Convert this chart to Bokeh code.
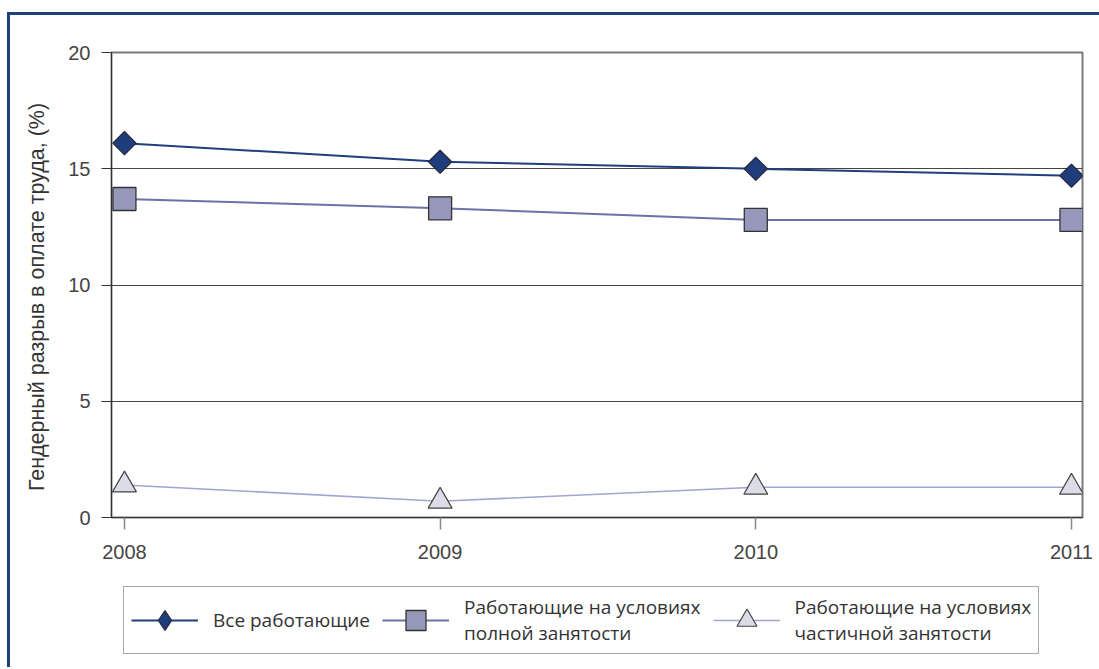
import numpy as np
from bokeh.plotting import figure
from bokeh.layouts import column
from bokeh.models import Range1d, FixedTicker, Legend, LegendItem, ColumnDataSource
from bokeh.embed import file_html
from bokeh.resources import INLINE

# ---- data ----
years = [2008, 2009, 2010, 2011]
year_labels = ["2008", "2009", "2010", "2011"]
all_workers = [16.1, 15.3, 15.0, 14.7]
full_time = [13.7, 13.3, 12.8, 12.8]
part_time = [1.4, 0.7, 1.3, 1.3]
y_ticks = [0, 5, 10, 15, 20]
series_names = [
    "Все работающие",
    "Работающие на условиях\nполной занятости",
    "Работающие на условиях\nчастичной занятости",
]
y_label = "Гендерный разрыв в оплате труда, (%)"

TICK_FONT = "Liberation Sans"
LEG_FONT = "Open Sans"

C1_LINE, C1_FILL = "#1F3F7F", "#1F3D7C"
C2_LINE, C2_FILL = "#6A72A8", "#9598BA"
C3_LINE, C3_FILL = "#A2A5CF", "#DCDCE8"

src = ColumnDataSource(dict(x=years, a=all_workers, f=full_time, t=part_time))

# ---------------- main chart ----------------
p = figure(
    width=1089, height=562,
    output_backend="svg", toolbar_location=None,
    x_range=Range1d(2007.959, 2011.035), y_range=Range1d(0, 20),
    min_border_left=101, min_border_right=17, min_border_top=37, min_border_bottom=60,
)
p.background_fill_color = "white"
p.border_fill_color = "white"
p.outline_line_color = "#7A7A7A"
p.outline_line_width = 2

p.xgrid.visible = False
p.ygrid.ticker = FixedTicker(ticks=y_ticks)
p.ygrid.grid_line_color = "#444444"
p.ygrid.grid_line_width = 1

p.yaxis.ticker = FixedTicker(ticks=y_ticks)
p.yaxis.axis_line_color = "#333333"
p.yaxis.major_tick_line_color = "#333333"
p.yaxis.major_tick_out = 10
p.yaxis.major_tick_in = 0
p.yaxis.minor_tick_line_color = None
p.yaxis.major_label_text_font = TICK_FONT
p.yaxis.major_label_text_font_size = "20px"
p.yaxis.major_label_text_color = "#444444"
p.yaxis.major_label_standoff = 11
# trailing no-break spaces nudge the centred label slightly downwards, as in the original
p.yaxis.axis_label = y_label + "\u00a0" * 4
p.yaxis.axis_label_text_font = TICK_FONT
p.yaxis.axis_label_text_font_size = "21.5px"
p.yaxis.axis_label_text_font_style = "normal"
p.yaxis.axis_label_text_color = "#333333"
p.yaxis.axis_label_standoff = 16

p.xaxis.ticker = FixedTicker(ticks=years)
p.xaxis.major_label_overrides = {y: lab for y, lab in zip(years, year_labels)}
p.xaxis.axis_line_color = "#333333"
p.xaxis.major_tick_line_color = "#888888"
p.xaxis.major_tick_line_width = 1.5
p.xaxis.major_tick_out = 12
p.xaxis.major_tick_in = 0
p.xaxis.minor_tick_line_color = None
p.xaxis.major_label_text_font = TICK_FONT
p.xaxis.major_label_text_font_size = "20px"
p.xaxis.major_label_text_color = "#444444"
p.xaxis.major_label_standoff = 15

p.line("x", "a", source=src, line_color=C1_LINE, line_width=2)
p.scatter("x", "a", source=src, marker="square", angle=np.pi / 4, size=16.5,
          fill_color=C1_FILL, line_color="#2A2A3A", line_width=1.2)
p.line("x", "f", source=src, line_color=C2_LINE, line_width=2)
p.scatter("x", "f", source=src, marker="square", size=23,
          fill_color=C2_FILL, line_color="#333333", line_width=1.3)
p.line("x", "t", source=src, line_color=C3_LINE, line_width=1.6)
p.scatter("x", "t", source=src, marker="triangle", size=24,
          fill_color=C3_FILL, line_color="#444444", line_width=1.2)

# ---------------- legend strip ----------------
q = figure(
    width=1089, height=90,
    output_backend="svg", toolbar_location=None,
    x_range=p.x_range, y_range=Range1d(-2, -1),   # series lie outside: only legend shows
    x_axis_type=None, y_axis_type=None,
    min_border_left=0, min_border_right=0, min_border_top=0, min_border_bottom=0,
)
q.outline_line_color = None
q.background_fill_color = "white"
q.border_fill_color = "white"

ql1 = q.line("x", "a", source=src, line_color=C1_LINE, line_width=2)
qs1 = q.scatter("x", "a", source=src, marker="diamond", size=23,
                fill_color=C1_FILL, line_color="#2A2A3A", line_width=1.2)
ql2 = q.line("x", "f", source=src, line_color=C2_LINE, line_width=2)
qs2 = q.scatter("x", "f", source=src, marker="square", size=23,
                fill_color=C2_FILL, line_color="#333333", line_width=1.3)
ql3 = q.line("x", "t", source=src, line_color=C3_LINE, line_width=1.6)
qs3 = q.scatter("x", "t", source=src, marker="triangle", size=24,
                fill_color=C3_FILL, line_color="#444444", line_width=1.2)

legend = Legend(
    items=[
        LegendItem(label=series_names[0], renderers=[ql1, qs1]),
        LegendItem(label=series_names[1], renderers=[ql2, qs2]),
        LegendItem(label=series_names[2], renderers=[ql3, qs3]),
    ],
    orientation="horizontal",
    location=(12, 13),
    glyph_width=67, glyph_height=50,
    label_standoff=15, spacing=12, padding=7,
    label_text_font=LEG_FONT, label_text_font_size="19px",
    label_text_color="#333333",
    border_line_color="#555555", border_line_width=1.5,
    background_fill_color="white", background_fill_alpha=1.0,
)
q.add_layout(legend, "center")

layout = column(p, q, spacing=0)
layout.styles = {
    "border-top": "3px solid #1F3F7F",
    "border-left": "3px solid #1F3F7F",
    "position": "relative",
    "top": "12px",
    "left": "7px",
}

open("out.html", "w").write(file_html(layout, INLINE))
